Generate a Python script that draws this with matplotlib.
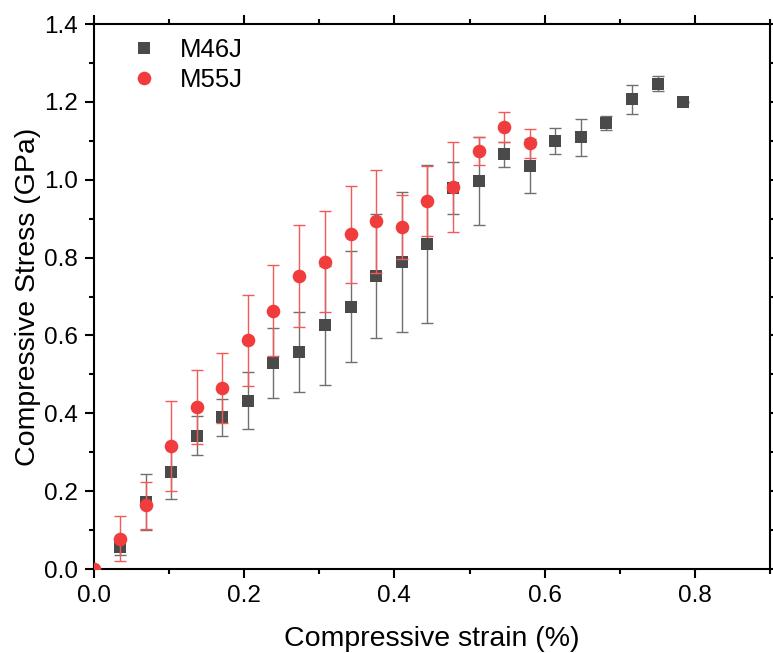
import matplotlib.pyplot as plt
from matplotlib.ticker import MultipleLocator

plt.rcParams['font.family'] = ['Liberation Sans', 'DejaVu Sans']

# M46J data
x_m46 = [0.034, 0.069, 0.103, 0.137, 0.171, 0.205, 0.239, 0.273, 0.307, 0.342, 0.376, 0.410,
         0.444, 0.478, 0.512, 0.546, 0.580, 0.614, 0.648, 0.682, 0.716, 0.751, 0.784]
y_m46 = [0.057, 0.173, 0.249, 0.342, 0.390, 0.432, 0.529, 0.557, 0.626, 0.674, 0.752, 0.788,
         0.836, 0.978, 0.997, 1.065, 1.035, 1.100, 1.109, 1.147, 1.207, 1.247, 1.200]
e_m46 = [0.020, 0.072, 0.070, 0.050, 0.048, 0.073, 0.089, 0.102, 0.152, 0.143, 0.159, 0.180,
         0.203, 0.067, 0.113, 0.032, 0.070, 0.033, 0.047, 0.018, 0.037, 0.019, 0.0]

# M55J data
x_m55 = [0.0, 0.034, 0.069, 0.103, 0.137, 0.171, 0.205, 0.239, 0.273, 0.307, 0.342, 0.376,
         0.410, 0.444, 0.478, 0.512, 0.546, 0.580]
y_m55 = [0.0, 0.078, 0.164, 0.316, 0.417, 0.464, 0.588, 0.663, 0.753, 0.789, 0.860, 0.893,
         0.879, 0.946, 0.981, 1.075, 1.135, 1.094]
e_m55 = [0.0, 0.057, 0.060, 0.115, 0.095, 0.090, 0.117, 0.117, 0.131, 0.130, 0.124, 0.133,
         0.082, 0.090, 0.115, 0.036, 0.038, 0.037]

fig = plt.figure(figsize=(7.73, 6.53), dpi=100)
ax = fig.add_axes([0.1216, 0.1286, 0.8744, 0.8346])

ax.errorbar(x_m46, y_m46, yerr=e_m46, fmt='none', ecolor='#707070', elinewidth=1,
            capsize=4.3, capthick=1, zorder=2)
ax.plot(x_m46, y_m46, 's', color='#4a4a4a', ms=8.8, mew=0, label='M46J', zorder=3)

ax.errorbar(x_m55, y_m55, yerr=e_m55, fmt='none', ecolor='#f25a5a', elinewidth=1,
            capsize=4.3, capthick=1, zorder=4)
ax.plot(x_m55, y_m55, 'o', color='#f03c3c', ms=9.8, mew=0, label='M55J', zorder=5)

ax.set_xlim(0, 0.9)
ax.set_ylim(0, 1.4)
ax.xaxis.set_major_locator(MultipleLocator(0.2))
ax.xaxis.set_minor_locator(MultipleLocator(0.1))
ax.yaxis.set_major_locator(MultipleLocator(0.2))
ax.yaxis.set_minor_locator(MultipleLocator(0.1))
ax.xaxis.set_major_formatter(plt.FormatStrFormatter('%.1f'))
ax.yaxis.set_major_formatter(plt.FormatStrFormatter('%.1f'))

for s in ax.spines.values():
    s.set_linewidth(1.5)
ax.tick_params(which='both', direction='out', top=True, right=True, width=1.5, labelsize=17.5)
ax.tick_params(which='major', length=6.5, pad=5)
ax.tick_params(which='minor', length=3.5)

ax.set_xlabel('Compressive strain (%)', fontsize=20.5, labelpad=14)
ax.set_ylabel('Compressive Stress (GPa)', fontsize=20.5, labelpad=2)

ax.legend(loc='upper left', frameon=False, fontsize=18.5, handletextpad=0.6,
          labelspacing=0.25, handlelength=1.6, borderaxespad=0.4,
          bbox_to_anchor=(0.013, 1.012))

fig.savefig('out.png', dpi=100)
